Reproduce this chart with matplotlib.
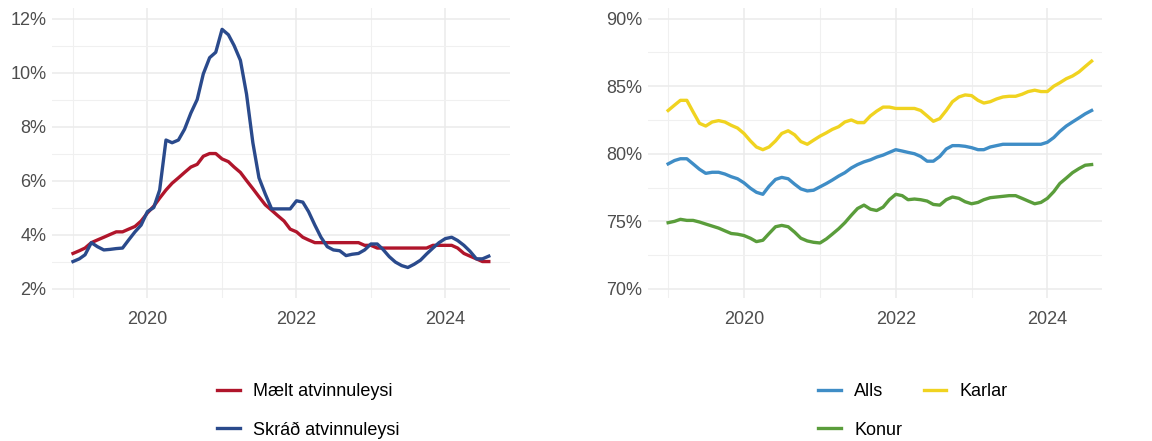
import numpy as np
import pandas as pd
import matplotlib
matplotlib.use("Agg")
import matplotlib.pyplot as plt
import matplotlib.dates as mdates
from matplotlib.ticker import MultipleLocator, FuncFormatter

plt.rcParams['font.family'] = ['Liberation Sans', 'DejaVu Sans']

# Monthly values, Jan 2019 - Aug 2024
months = pd.date_range("2019-01-01", periods=68, freq="MS")

maelt = [3.3, 3.4, 3.5, 3.7, 3.8, 3.9, 4.0, 4.1, 4.1, 4.2, 4.3, 4.5,
         4.8, 5.05, 5.35, 5.65, 5.9, 6.1, 6.3, 6.5, 6.6, 6.9, 7.0, 7.0,
         6.8, 6.7, 6.5, 6.3, 6.0, 5.7, 5.4, 5.1, 4.9, 4.7, 4.5, 4.2,
         4.1, 3.9, 3.8, 3.7, 3.7, 3.7, 3.7, 3.7, 3.7, 3.7, 3.7, 3.6,
         3.6, 3.5, 3.5, 3.5, 3.5, 3.5, 3.5, 3.5, 3.5, 3.5, 3.6, 3.6,
         3.6, 3.6, 3.5, 3.3, 3.2, 3.1, 3.0, 3.0]

skrad = [3.0, 3.1, 3.25, 3.7, 3.55, 3.43, 3.45, 3.48, 3.5, 3.8, 4.1, 4.35,
         4.85, 5.0, 5.65, 7.5, 7.4, 7.5, 7.9, 8.5, 9.0, 9.95, 10.55, 10.75,
         11.6, 11.4, 11.0, 10.45, 9.2, 7.4, 6.1, 5.5, 4.95, 4.95, 4.95, 4.95,
         5.25, 5.2, 4.85, 4.35, 3.9, 3.55, 3.43, 3.4, 3.22, 3.27, 3.3, 3.43,
         3.65, 3.65, 3.45, 3.18, 2.98, 2.85, 2.78, 2.9, 3.05, 3.28, 3.5, 3.7,
         3.85, 3.9, 3.78, 3.6, 3.38, 3.1, 3.1, 3.2]

alls = [79.25, 79.5, 79.63, 79.63, 79.25, 78.85, 78.55, 78.63, 78.63, 78.5, 78.3, 78.15,
        77.85, 77.45, 77.15, 77.0, 77.6, 78.1, 78.25, 78.15, 77.75, 77.4, 77.25, 77.3,
        77.55, 77.8, 78.05, 78.35, 78.6, 78.95, 79.2, 79.4, 79.55, 79.75, 79.9, 80.1,
        80.3, 80.2, 80.1, 80.0, 79.8, 79.45, 79.45, 79.8, 80.35, 80.6, 80.6, 80.55,
        80.45, 80.3, 80.3, 80.5, 80.6, 80.7, 80.7, 80.7, 80.7, 80.7, 80.7, 80.7,
        80.85, 81.2, 81.65, 82.05, 82.35, 82.65, 82.95, 83.2]

karlar = [83.2, 83.6, 83.95, 83.95, 83.1, 82.25, 82.05, 82.35, 82.45, 82.35, 82.1, 81.9,
          81.5, 80.95, 80.5, 80.3, 80.5, 80.95, 81.5, 81.7, 81.4, 80.9, 80.7, 81.0,
          81.3, 81.55, 81.8, 82.0, 82.35, 82.5, 82.3, 82.3, 82.8, 83.15, 83.45, 83.45,
          83.35, 83.35, 83.35, 83.35, 83.2, 82.8, 82.4, 82.6, 83.2, 83.85, 84.2, 84.35,
          84.3, 83.95, 83.75, 83.85, 84.05, 84.2, 84.25, 84.25, 84.4, 84.6, 84.7, 84.6,
          84.6, 85.0, 85.25, 85.55, 85.75, 86.05, 86.45, 86.85]

konur = [74.9, 75.0, 75.15, 75.07, 75.07, 74.95, 74.8, 74.65, 74.5, 74.3, 74.1, 74.05,
         73.95, 73.75, 73.5, 73.6, 74.1, 74.6, 74.7, 74.6, 74.2, 73.75, 73.55, 73.45,
         73.4, 73.7, 74.05, 74.45, 74.9, 75.45, 75.95, 76.2, 75.9, 75.8, 76.05, 76.6,
         77.0, 76.9, 76.6, 76.65, 76.6, 76.5, 76.25, 76.2, 76.6, 76.8, 76.7, 76.45,
         76.3, 76.4, 76.6, 76.75, 76.8, 76.85, 76.9, 76.9, 76.7, 76.5, 76.3, 76.4,
         76.7, 77.2, 77.8, 78.2, 78.6, 78.9, 79.15, 79.2]

W, H = 1152, 441
fig = plt.figure(figsize=(W / 100, H / 100), dpi=100)


def px_axes(x0, y0, x1, y1):
    # pixel box (top-left origin) -> axes
    return fig.add_axes([x0 / W, 1 - y1 / H, (x1 - x0) / W, (y1 - y0) / H])


def style(ax):
    for s in ax.spines.values():
        s.set_visible(False)
    ax.xaxis.set_major_locator(mdates.YearLocator(2))
    ax.xaxis.set_minor_locator(mdates.YearLocator(1))
    ax.xaxis.set_major_formatter(mdates.DateFormatter("%Y"))
    ax.grid(which="major", color="#EBEBEB", lw=1.1)
    ax.grid(which="minor", color="#F0F0F0", lw=0.8)
    ax.set_axisbelow(True)
    ax.tick_params(which="both", length=0, labelsize=13, colors="#4D4D4D")
    ax.tick_params(axis="x", pad=9)
    ax.tick_params(axis="y", pad=4)
    ax.yaxis.set_major_formatter(FuncFormatter(lambda v, p: f"{v:.0f}%"))


ax1 = px_axes(52, 8, 510, 298)
style(ax1)
l1, = ax1.plot(months, maelt, color="#B0152B", lw=2.4, label="Mælt atvinnuleysi")
l2, = ax1.plot(months, skrad, color="#2A4A8C", lw=2.4, label="Skráð atvinnuleysi")
ax1.set_ylim(1.65, 12.39)
ax1.set_xlim(pd.Timestamp("2018-09-20"), pd.Timestamp("2024-11-13"))
ax1.yaxis.set_major_locator(MultipleLocator(2))
ax1.yaxis.set_minor_locator(MultipleLocator(1))

ax2 = px_axes(648, 8, 1102, 298)
style(ax2)
r1, = ax2.plot(months, alls, color="#3F8DC6", lw=2.4, label="Alls")
r2, = ax2.plot(months, karlar, color="#F0D320", lw=2.4, label="Karlar")
r3, = ax2.plot(months, konur, color="#5A9D3B", lw=2.4, label="Konur")
ax2.set_ylim(69.33, 90.78)
ax2.set_xlim(pd.Timestamp("2018-09-26"), pd.Timestamp("2024-09-20"))
ax2.yaxis.set_major_locator(MultipleLocator(5))
ax2.yaxis.set_minor_locator(MultipleLocator(2.5))

leg_kw = dict(frameon=False, fontsize=13, handlelength=1.25, handletextpad=0.75,
              labelspacing=1.17, borderpad=0, borderaxespad=0, loc="center left")
fig.legend(handles=[l1, l2], bbox_to_anchor=(217 / W, 1 - 411 / H), **leg_kw)
fig.legend(handles=[r1, r3, r2], ncol=2, columnspacing=1.2,
           bbox_to_anchor=(818 / W, 1 - 411 / H), **leg_kw)

fig.savefig("out.png", dpi=100)
